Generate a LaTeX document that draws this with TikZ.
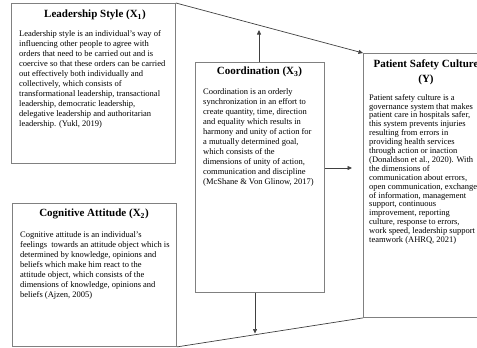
\documentclass[tikz,border=0pt]{standalone}
\usepackage{fontspec}
\setmainfont{Liberation Serif}
\usetikzlibrary{arrows.meta}
\begin{document}
\begin{tikzpicture}[x=1pt,y=-1pt,
  box/.style={draw=black!50, line width=0.9pt, inner sep=0pt, anchor=north west},
  ttl/.style={font=\fontsize{11}{15}\selectfont\bfseries, align=center, inner sep=0pt, anchor=center},
  body/.style={font=\fontsize{8.5}{10}\selectfont, align=left, inner sep=0pt, anchor=north west},
  pbody/.style={font=\fontsize{8.5}{8.9}\selectfont, align=left, inner sep=0pt, anchor=north west},
  conn/.style={draw=black!75, line width=0.7pt},
  arr/.style={conn, -{Triangle[length=4.5pt,width=4pt]}}]
\useasboundingbox (0,0) rectangle (477,348);
\clip (0,0) rectangle (477,348);
% boxes
\node[box, minimum width=164pt, minimum height=160pt] (lead) at (11,3) {};
\node[box, minimum width=164pt, minimum height=143pt] (cog) at (12,203) {};
\node[box, minimum width=129pt, minimum height=230pt] (coord) at (195,62) {};
\node[box, minimum width=118pt, minimum height=264pt] (psc) at (363,53) {};
% titles
\node[ttl] (leadt) at (95,15) {Leadership Style (X\textsubscript{1})};
\node[ttl] (cogt) at (94,214) {Cognitive Attitude (X\textsubscript{2})};
\node[ttl] (coordt) at (259.5,72) {Coordination (X\textsubscript{3})};
\node[ttl] (psct) at (426,72.5) {Patient Safety Culture\\(Y)};
% bodies
\node[body] (leadb) at (19,30) {Leadership style is an individual's way of\\
influencing other people to agree with\\
orders that need to be carried out and is\\
coercive so that these orders can be carried\\
out effectively both individually and\\
collectively, which consists of\\
transformational leadership, transactional\\
leadership, democratic leadership,\\
delegative leadership and authoritarian\\
leadership. (Yukl, 2019)};
\node[body] (coordb) at (203,88) {Coordination is an orderly\\
synchronization in an effort to\\
create quantity, time, direction\\
and equality which results in\\
harmony and unity of action for\\
a mutually determined goal,\\
which consists of the\\
dimensions of unity of action,\\
communication and discipline\\
(McShane \& Von Glinow, 2017)};
\node[body] (cogb) at (20,231) {Cognitive attitude is an individual's\\
feelings\ \ towards an attitude object which is\\
determined by knowledge, opinions and\\
beliefs which make him react to the\\
attitude object, which consists of the\\
dimensions of knowledge, opinions and\\
beliefs (Ajzen, 2005)};
\node[pbody] (pscb) at (369,94) {Patient safety culture is a\\
governance system that makes\\
patient care in hospitals safer,\\
this system prevents injuries\\
resulting from errors in\\
providing health services\\
through action or inaction\\
(Donaldson et al., 2020). With\\
the dimensions of\\
communication about errors,\\
open communication, exchange\\
of information, management\\
support, continuous\\
improvement, reporting\\
culture, response to errors,\\
work speed, leadership support\\
teamwork (AHRQ, 2021)};
% connectors
\draw[arr] (lead.north east) -- (psc.north west);
\draw[conn] (cog.south east) -- (psc.south west);
\coordinate (up) at (259,30);
\coordinate (down) at (255,333.5);
\coordinate (right) at (352,168);
\draw[arr] (coord.north -| up) -- (up);
\draw[arr] (coord.south -| down) -- (down);
\draw[arr] (coord.east |- right) -- (right);
\end{tikzpicture}
\end{document}
